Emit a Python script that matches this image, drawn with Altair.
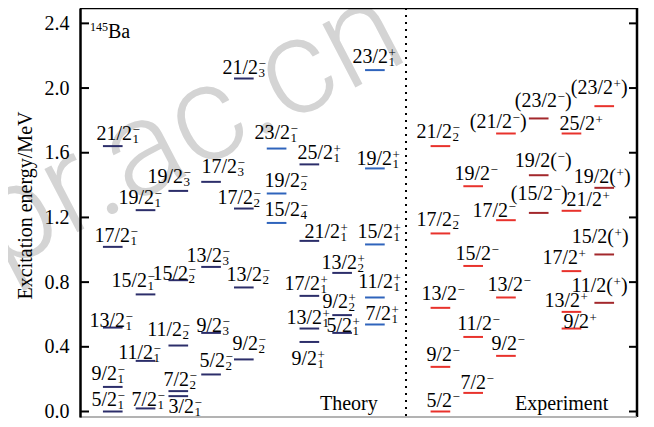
import altair as alt
import pandas as pd

# ---------------- layout constants ----------------
W, H = 557, 409
X_DOMAIN = [0, 17]
Y_DOMAIN = [-0.034, 2.495]
PX_X = W / (X_DOMAIN[1] - X_DOMAIN[0])
PX_Y = H / (Y_DOMAIN[1] - Y_DOMAIN[0])
HALF = 0.3
SERIF = "Liberation Serif"

# ---------------- data: theory ----------------
th_spin = ["21/2", "19/2", "19/2", "17/2", "17/2", "15/2", "15/2", "13/2", "13/2", "11/2",
           "11/2", "9/2", "9/2", "5/2", "7/2", "7/2", "3/2", "5/2", "9/2", "13/2",
           "17/2", "21/2", "23/2", "19/2", "15/2", "25/2", "21/2", "17/2", "13/2", "9/2",
           "13/2", "9/2", "5/2", "23/2", "19/2", "15/2", "11/2", "7/2"]
th_sub = ["1", "1", "3", "3", "1", "1", "2", "3", "1", "1",
          "2", "3", "1", "1", "1", "2", "1", "2", "2", "2",
          "2", "3", "1", "2", "4", "1", "1", "1", "1", "1",
          "2", "2", "1", "1", "1", "1", "1", "1"]
th_par = ["−"] * 25 + ["+"] * 13
th_col = [1, 2, 3, 4, 1, 2, 3, 4, 1, 2,
          3, 4, 1, 1, 2, 3, 3, 4, 5, 5,
          5, 5, 6, 6, 6, 7, 7, 7, 7, 7,
          8, 8, 8, 9, 9, 9, 9, 9]
th_E = [1.641, 1.245, 1.364, 1.420, 1.018, 0.724, 0.812, 0.894, 0.519, 0.313,
        0.408, 0.486, 0.152, 0.000, 0.019, 0.126, 0.095, 0.229, 0.322, 0.767,
        1.255, 2.059, 1.626, 1.348, 1.166, 1.528, 1.055, 0.715, 0.513, 0.430,
        0.857, 0.596, 0.486, 2.111, 1.503, 1.033, 0.705, 0.538]
BLUE_COLUMNS = {6, 9}

# label anchor offsets (pixels from level centre)
TH_DX = [19.2, 8.5, 4.7, 26, 17.2, 1.5, 9.7, 11, 12.2, 7.5,
         3.7, 11, 4.2, 4.2, 11.5, 10.7, 15.7, 14, 14.2, 18.2,
         9.2, 14.2, 13.4, 23.4, 23.4, 23.6, 30.6, 10.6, 12.6, 7.6,
         14.9, 5.9, 9.9, 13.1, 17.1, 18.1, 18.1, 16.1]
TH_DY = [-6, -6, -8, -8.7, -5, -7, 0, -5, -1, -1.7,
         -10, -1, -6.7, -6, -2.6, -5, 17, -7.5, -9.3, -6,
         -5, -5, -10, -6.6, -6.5, -5, -2.4, -5.7, -5, 23.3,
         -4, -6.7, -1, -6.7, -3.3, -6, -9, -4.3]

# ---------------- data: experiment ----------------
ex_main = ["21/2", "(21/2", "(23/2", "(23/2", "25/2", "19/2", "19/2(", "19/2(", "(15/2", "21/2",
           "17/2", "17/2", "15/2", "17/2", "15/2(", "13/2", "13/2", "11/2(", "13/2", "9/2",
           "11/2", "9/2", "9/2", "7/2", "5/2"]
ex_sup = ["−", "−", "−", "+", "+", "−", "−", "+", "−", "+",
          "−", "−", "−", "+", "+", "−", "−", "+", "+", "+",
          "−", "−", "−", "−", "−"]
ex_sub = ["2", "", "", "", "", "", "", "", "", "",
          "", "2", "", "", "", "", "", "", "", "",
          "", "", "", "", ""]
ex_post = ["", ")", ")", ")", "", "", ")", ")", ")", "",
           "", "", "", "", ")", "", "", ")", "", "",
           "", "", "", "", ""]
ex_col = [11, 13, 14, 16, 15, 12, 14, 16, 14, 15,
          13, 11, 12, 15, 16, 13, 11, 16, 15, 15,
          12, 13, 11, 12, 11]
ex_E = [1.641, 1.719, 1.812, 1.888, 1.719, 1.393, 1.461, 1.383, 1.228, 1.241,
        1.183, 1.101, 0.900, 0.868, 0.971, 0.705, 0.641, 0.672, 0.616, 0.513,
        0.461, 0.344, 0.276, 0.115, 0.000]
ex_band = ["red", "red", "darkred", "red", "red", "red", "darkred", "darkred", "darkred", "red",
           "red", "red", "red", "red", "darkred", "red", "red", "darkred", "red", "red",
           "red", "red", "red", "red", "red"]
EX_DX = [11.6, 6.1, 18.3, 8.8, 23.5, 16.8, 18.3, 11.8, 14.3, 30.5,
         2.1, 11.6, 17.8, 6.5, 9.8, 17.1, 16.6, 8.8, 8.5, 17.5,
         18.8, 11.1, 11.6, 12.8, 11.6]
EX_DY = [-7.7, -5, -11.6, -11.7, -3.3, -6, -8.3, -4.4, -12.7, -5,
         -3.3, -7.3, -6.4, -7, -11, -6.3, -7.7, -11, -5, -1,
         -6.7, -5.7, -6, -4.4, -4.3]

TICKS = [0.0, 0.4, 0.8, 1.2, 1.6, 2.0, 2.4]
DIVIDER = 9.95

# ---------------- build table ----------------
rows = []
for i in range(len(th_spin)):
    rows.append(dict(x=th_col[i], y=th_E[i],
                     band="blue" if th_col[i] in BLUE_COLUMNS else "navy",
                     main=th_spin[i], sub=th_sub[i], sup=th_par[i], post="",
                     lx=th_col[i] + TH_DX[i] / PX_X, ly=th_E[i] - TH_DY[i] / PX_Y))
for i in range(len(ex_main)):
    rows.append(dict(x=ex_col[i], y=ex_E[i], band=ex_band[i],
                     main=ex_main[i], sub=ex_sub[i], sup=ex_sup[i], post=ex_post[i],
                     lx=ex_col[i] + EX_DX[i] / PX_X, ly=ex_E[i] - EX_DY[i] / PX_Y))
df = pd.DataFrame(rows)
df["x1"] = df["x"] - HALF
df["x2"] = df["x"] + HALF

tick_df = pd.DataFrame({"y": TICKS})
one = pd.DataFrame({"a": [0]})
div_df = pd.DataFrame({"x": [DIVIDER]})

AXIS = alt.Axis(values=TICKS, format=".1f", ticks=False, tickSize=0, labelPadding=11,
                labelFont=SERIF, labelFontSize=20, labelColor="black",
                domainColor="black", domainWidth=2.5, grid=False, zindex=1,
                title="Excitation energy/MeV", titleFont=SERIF, titleFontSize=20,
                titleFontWeight="normal", titleColor="black",
                titleAngle=270, titleX=-49, titleY=197, titleAlign="center",
                titleBaseline="alphabetic")


def X(f):
    return alt.X(f"{f}:Q", scale=alt.Scale(domain=X_DOMAIN, nice=False, zero=False), axis=None)


def Y(f):
    return alt.Y(f"{f}:Q", scale=alt.Scale(domain=Y_DOMAIN, nice=False, zero=False), axis=AXIS)


COLOR = alt.Color("band:N", scale=alt.Scale(domain=["navy", "blue", "red", "darkred"],
                                            range=["#2c2e6a", "#2f64bc", "#e8322c", "#a3282c"]),
                  legend=None)

watermark = alt.Chart(one).mark_text(
    text="npr.ac.cn", font="Roboto", fontWeight=300, fontSize=135, color="#d4d4d4",
    align="center", baseline="alphabetic", angle=332.5
).encode(x=alt.value(94), y=alt.value(174))

levels = alt.Chart(df).mark_rule(strokeWidth=2).encode(
    x=X("x1"), x2="x2", y=Y("y"), color=COLOR)

lab_main = alt.Chart(df).mark_text(align="right", baseline="alphabetic", font=SERIF,
                                   fontSize=20, color="black").encode(
    x=X("lx"), y=Y("ly"), text="main:N")
lab_sup = alt.Chart(df).mark_text(align="left", baseline="alphabetic", font=SERIF,
                                  fontSize=13, color="black", dx=0.5, dy=-6).encode(
    x=X("lx"), y=Y("ly"), text="sup:N")
lab_sub = alt.Chart(df).mark_text(align="left", baseline="alphabetic", font=SERIF,
                                  fontSize=13, color="black", dx=0.5, dy=3).encode(
    x=X("lx"), y=Y("ly"), text="sub:N")
lab_post = alt.Chart(df).mark_text(align="left", baseline="alphabetic", font=SERIF,
                                   fontSize=20, color="black", dx=8).encode(
    x=X("lx"), y=Y("ly"), text="post:N")

ticks_l = alt.Chart(tick_df).mark_rule(color="black", strokeWidth=2).encode(
    x=alt.value(0), x2=alt.value(9), y=Y("y"))
ticks_r = alt.Chart(tick_df).mark_rule(color="black", strokeWidth=2).encode(
    x=alt.value(W - 8), x2=alt.value(W), y=Y("y"))

top_b = alt.Chart(one).mark_rule(color="black", strokeWidth=2.5).encode(
    x=alt.value(0), x2=alt.value(W), y=alt.value(0))
right_b = alt.Chart(one).mark_rule(color="black", strokeWidth=2.5).encode(
    x=alt.value(W), y=alt.value(0), y2=alt.value(H))
bottom_b = alt.Chart(one).mark_rule(color="#9a9a9a", strokeWidth=1.5).encode(
    x=alt.value(0), x2=alt.value(W), y=alt.value(H))

divider = alt.Chart(div_df).mark_rule(color="black", strokeWidth=2, strokeDash=[2, 5]).encode(
    x=X("x"), y=alt.value(0), y2=alt.value(H))

ba = alt.Chart(one).mark_text(text="Ba", align="left", baseline="alphabetic", font=SERIF,
                              fontSize=20, color="black").encode(x=alt.value(28), y=alt.value(30))
mass = alt.Chart(one).mark_text(text="145", align="right", baseline="alphabetic", font=SERIF,
                                fontSize=12, color="black").encode(x=alt.value(28), y=alt.value(23))
theory = alt.Chart(one).mark_text(text="Theory", align="left", baseline="alphabetic", font=SERIF,
                                  fontSize=20, color="black").encode(x=alt.value(240), y=alt.value(402))
expt = alt.Chart(one).mark_text(text="Experiment", align="left", baseline="alphabetic", font=SERIF,
                                fontSize=20, color="black").encode(x=alt.value(435), y=alt.value(402))

chart = alt.layer(
    watermark, levels, lab_main, lab_sup, lab_sub, lab_post,
    ticks_l, ticks_r, top_b, right_b, bottom_b, divider, ba, mass, theory, expt
).properties(
    width=W, height=H, autosize="none",
    padding={"left": 72, "top": 0, "right": 9, "bottom": 2}
).configure_view(stroke="transparent")

chart.save("out.html", embed_options={"renderer": "svg", "actions": False})
